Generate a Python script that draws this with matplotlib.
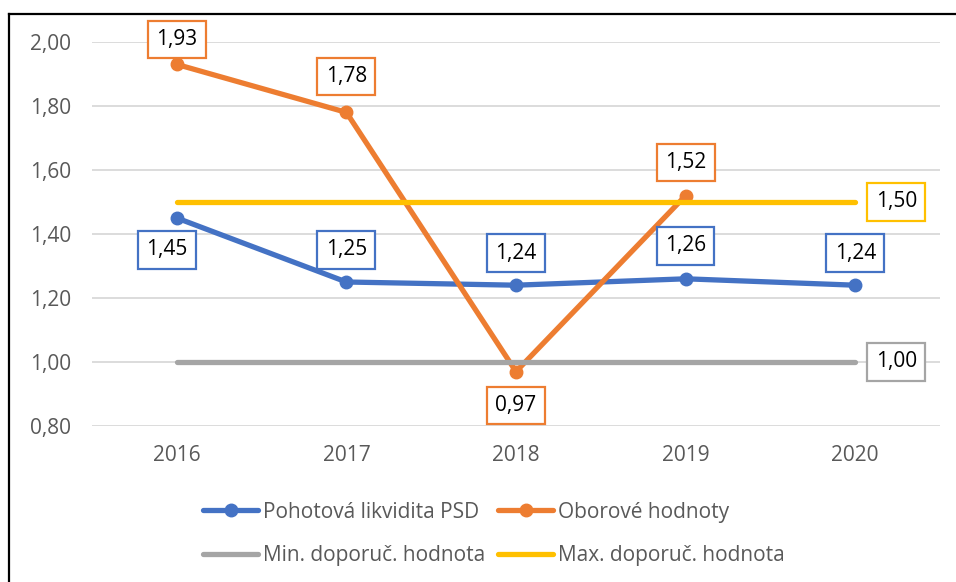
import matplotlib.pyplot as plt
from matplotlib.lines import Line2D

years = ["2016", "2017", "2018", "2019", "2020"]
psd = [1.45, 1.25, 1.24, 1.26, 1.24]
obor = [1.93, 1.78, 0.97, 1.52]
min_dop = [1.00, 1.00, 1.00, 1.00, 1.00]
max_dop = [1.50, 1.50, 1.50, 1.50, 1.50]
yticks = [0.8, 1.0, 1.2, 1.4, 1.6, 1.8, 2.0]

c_blue = "#4472C4"
c_orange = "#ED7D31"
c_gray = "#A5A5A5"
c_yellow = "#FFC000"
txt_gray = "#595959"

plt.rcParams['font.family'] = ['Open Sans', 'DejaVu Sans']
fs = 15

fig = plt.figure(figsize=(9.56, 5.82), dpi=100)
ax = fig.add_axes([92 / 956, 1 - 426 / 582, 848 / 956, 384 / 582])

x = list(range(len(years)))
lw = 3.8
ms = 9

l1, = ax.plot(x, psd, color=c_blue, lw=lw, marker="o", ms=ms, solid_capstyle="round", zorder=3)
l2, = ax.plot(x[:len(obor)], obor, color=c_orange, lw=lw, marker="o", ms=ms, solid_capstyle="round",
              zorder=4)
l3, = ax.plot(x, min_dop, color=c_gray, lw=lw, solid_capstyle="round", zorder=5)
l4, = ax.plot(x, max_dop, color=c_yellow, lw=lw, solid_capstyle="round", zorder=6)

ax.set_xlim(-0.5, len(years) - 0.5)
ax.set_ylim(0.8, 2.0)
ax.set_yticks(yticks)
ax.set_yticklabels([f"{v:.2f}".replace(".", ",") for v in yticks])
ax.set_xticks(x)
ax.set_xticklabels(years)
ax.tick_params(length=0, labelsize=fs, labelcolor=txt_gray)
ax.tick_params(axis="y", pad=15)
ax.tick_params(axis="x", pad=14)
ax.grid(axis="y", color="#D9D9D9", lw=1.3)
ax.set_axisbelow(True)
for s in ax.spines.values():
    s.set_visible(False)


def label(xi, yi, color, dx, dy):
    ax.annotate(f"{yi:.2f}".replace(".", ","), (xi, yi), xytext=(dx, dy),
                textcoords="offset pixels", ha="center", va="center",
                fontsize=fs, color="black", zorder=10,
                bbox=dict(boxstyle="square,pad=0.4", fc="white", ec=color, lw=1.6),
                annotation_clip=False)


psd_off = [(-10, -32), (0, 32), (0, 32), (0, 33), (0, 32)]
for i, v in enumerate(psd):
    label(x[i], v, c_blue, *psd_off[i])
obor_off = [(0, 25), (0, 36), (0, -34), (0, 33)]
for i, v in enumerate(obor):
    label(x[i], v, c_orange, *obor_off[i])
label(x[-1], min_dop[-1], c_gray, 41, 0)
label(x[-1], max_dop[-1], c_yellow, 41, 0)

# row-wise order for a 2-column legend
handles = [l1, l3, l2, l4]
labels = ["Pohotová likvidita PSD", "Min. doporuč. hodnota",
          "Oborové hodnoty", "Max. doporuč. hodnota"]
leg = fig.legend(handles, labels, ncol=2, loc="center", bbox_to_anchor=(494 / 956, 1 - 534 / 582),
                 frameon=False, fontsize=fs, handlelength=2.65, handletextpad=0.24,
                 columnspacing=0.6, labelspacing=1.1, borderpad=0)
for t in leg.get_texts():
    t.set_color(txt_gray)

# black frame (top and left edges visible)
fig.add_artist(Line2D([9 / 956, 1.0], [1 - 14 / 582, 1 - 14 / 582], color="black", lw=1.6))
fig.add_artist(Line2D([9 / 956, 9 / 956], [0.0, 1 - 14 / 582], color="black", lw=1.6))

fig.savefig("out.png", dpi=100)
